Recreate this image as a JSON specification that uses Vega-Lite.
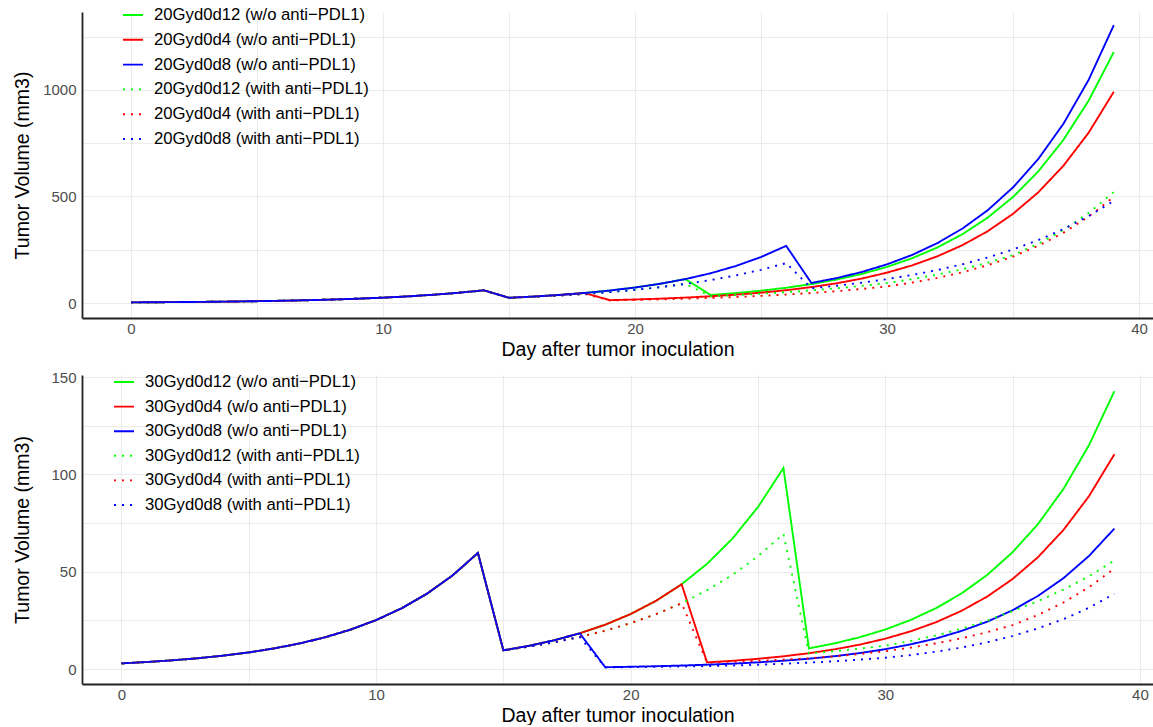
{
  "$schema": "https://vega.github.io/schema/vega-lite/v6.json",
  "background": "white",
  "padding": {"left": 12, "top": 4, "right": 0, "bottom": 0},
  "spacing": 11,
  "config": {
    "font": "Liberation Sans",
    "view": {"stroke": null},
    "axis": {"labelFont": "Liberation Sans", "labelFontSize": 15, "labelColor": "#4d4d4d", "titleFont": "Liberation Sans", "titleFontSize": 19.5, "titleColor": "#000000", "titleFontWeight": "normal", "ticks": false, "gridColor": "#ebebeb", "gridWidth": 1.1, "domainColor": "#222222", "domainWidth": 1.8, "labelPadding": 6},
    "axisX": {"titlePadding": 4, "labelPadding": 3},
    "legend": {"labelFont": "Liberation Sans", "labelFontSize": 16.7, "labelColor": "#000000", "padding": 0, "labelLimit": 0}
  },
  "resolve": {"scale": {"color": "independent", "strokeDash": "independent"}},
  "datasets": {
    "top": [
{"d":0,"s":"d12w","v":2.9},{"d":1,"s":"d12w","v":3.6},{"d":2,"s":"d12w","v":4.47},{"d":3,"s":"d12w","v":5.54},{"d":4,"s":"d12w","v":6.88},{"d":5,"s":"d12w","v":8.54},{"d":6,"s":"d12w","v":10.6},{"d":7,"s":"d12w","v":13.15},{"d":8,"s":"d12w","v":16.32},{"d":9,"s":"d12w","v":20.26},{"d":10,"s":"d12w","v":25.14},{"d":11,"s":"d12w","v":31.2},{"d":12,"s":"d12w","v":38.73},{"d":13,"s":"d12w","v":48.06},{"d":14,"s":"d12w","v":59.65},
{"d":15,"s":"d12w","v":24.5},{"d":16,"s":"d12w","v":30.45},{"d":17,"s":"d12w","v":37.85},{"d":18,"s":"d12w","v":47.05},{"d":19,"s":"d12w","v":58.49},{"d":20,"s":"d12w","v":72.7},{"d":21,"s":"d12w","v":90.37},{"d":22,"s":"d12w","v":112.3},
{"d":23,"s":"d12w","v":37.5},{"d":24,"s":"d12w","v":46.5},{"d":25,"s":"d12w","v":57.7},{"d":26,"s":"d12w","v":71.6},{"d":27,"s":"d12w","v":88.8},{"d":28,"s":"d12w","v":110.1},{"d":29,"s":"d12w","v":136.6},{"d":30,"s":"d12w","v":169.4},{"d":31,"s":"d12w","v":210.2},{"d":32,"s":"d12w","v":260.7},{"d":33,"s":"d12w","v":323.4},{"d":34,"s":"d12w","v":401.1},{"d":35,"s":"d12w","v":497.5},{"d":36,"s":"d12w","v":617.1},{"d":37,"s":"d12w","v":765.5},{"d":38,"s":"d12w","v":949.5},{"d":39,"s":"d12w","v":1177.8},
{"d":0,"s":"d4w","v":2.9},{"d":1,"s":"d4w","v":3.6},{"d":2,"s":"d4w","v":4.47},{"d":3,"s":"d4w","v":5.54},{"d":4,"s":"d4w","v":6.88},{"d":5,"s":"d4w","v":8.54},{"d":6,"s":"d4w","v":10.6},{"d":7,"s":"d4w","v":13.15},{"d":8,"s":"d4w","v":16.32},{"d":9,"s":"d4w","v":20.26},{"d":10,"s":"d4w","v":25.14},{"d":11,"s":"d4w","v":31.2},{"d":12,"s":"d4w","v":38.73},{"d":13,"s":"d4w","v":48.06},{"d":14,"s":"d4w","v":59.65},
{"d":15,"s":"d4w","v":24.5},{"d":16,"s":"d4w","v":30.45},{"d":17,"s":"d4w","v":37.85},{"d":18,"s":"d4w","v":47.05},
{"d":19,"s":"d4w","v":13.3},{"d":20,"s":"d4w","v":16.5},{"d":21,"s":"d4w","v":20.5},{"d":22,"s":"d4w","v":25.4},{"d":23,"s":"d4w","v":31.5},{"d":24,"s":"d4w","v":39.1},{"d":25,"s":"d4w","v":48.5},{"d":26,"s":"d4w","v":60.1},{"d":27,"s":"d4w","v":74.6},{"d":28,"s":"d4w","v":92.5},{"d":29,"s":"d4w","v":114.8},{"d":30,"s":"d4w","v":142.4},{"d":31,"s":"d4w","v":176.7},{"d":32,"s":"d4w","v":219.2},{"d":33,"s":"d4w","v":271.9},{"d":34,"s":"d4w","v":337.3},{"d":35,"s":"d4w","v":418.5},{"d":36,"s":"d4w","v":519.2},{"d":37,"s":"d4w","v":644.1},{"d":38,"s":"d4w","v":799.1},{"d":39,"s":"d4w","v":991.3},
{"d":0,"s":"d8w","v":2.9},{"d":1,"s":"d8w","v":3.6},{"d":2,"s":"d8w","v":4.47},{"d":3,"s":"d8w","v":5.54},{"d":4,"s":"d8w","v":6.88},{"d":5,"s":"d8w","v":8.54},{"d":6,"s":"d8w","v":10.6},{"d":7,"s":"d8w","v":13.15},{"d":8,"s":"d8w","v":16.32},{"d":9,"s":"d8w","v":20.26},{"d":10,"s":"d8w","v":25.14},{"d":11,"s":"d8w","v":31.2},{"d":12,"s":"d8w","v":38.73},{"d":13,"s":"d8w","v":48.06},{"d":14,"s":"d8w","v":59.65},
{"d":15,"s":"d8w","v":24.5},{"d":16,"s":"d8w","v":30.45},{"d":17,"s":"d8w","v":37.85},{"d":18,"s":"d8w","v":47.05},{"d":19,"s":"d8w","v":58.49},{"d":20,"s":"d8w","v":72.7},{"d":21,"s":"d8w","v":90.37},{"d":22,"s":"d8w","v":112.3},{"d":23,"s":"d8w","v":139.6},{"d":24,"s":"d8w","v":173.6},{"d":25,"s":"d8w","v":215.7},{"d":26,"s":"d8w","v":268.2},
{"d":27,"s":"d8w","v":94},{"d":28,"s":"d8w","v":117},{"d":29,"s":"d8w","v":145.7},{"d":30,"s":"d8w","v":181.4},{"d":31,"s":"d8w","v":225.8},{"d":32,"s":"d8w","v":281.2},{"d":33,"s":"d8w","v":350},{"d":34,"s":"d8w","v":435.8},{"d":35,"s":"d8w","v":542.6},{"d":36,"s":"d8w","v":675.5},{"d":37,"s":"d8w","v":841},{"d":38,"s":"d8w","v":1047},{"d":39,"s":"d8w","v":1304},
{"d":0,"s":"d12a","v":2.9},{"d":1,"s":"d12a","v":3.6},{"d":2,"s":"d12a","v":4.47},{"d":3,"s":"d12a","v":5.54},{"d":4,"s":"d12a","v":6.88},{"d":5,"s":"d12a","v":8.54},{"d":6,"s":"d12a","v":10.6},{"d":7,"s":"d12a","v":13.15},{"d":8,"s":"d12a","v":16.32},{"d":9,"s":"d12a","v":20.26},{"d":10,"s":"d12a","v":25.14},{"d":11,"s":"d12a","v":31.2},{"d":12,"s":"d12a","v":38.73},{"d":13,"s":"d12a","v":48.06},{"d":14,"s":"d12a","v":59.65},
{"d":15,"s":"d12a","v":24.5},{"d":16,"s":"d12a","v":29.5},{"d":17,"s":"d12a","v":35.5},{"d":18,"s":"d12a","v":42.7},{"d":19,"s":"d12a","v":51.3},{"d":20,"s":"d12a","v":61.8},{"d":21,"s":"d12a","v":74.3},{"d":22,"s":"d12a","v":89.4},
{"d":23,"s":"d12a","v":32},{"d":24,"s":"d12a","v":37.3},{"d":25,"s":"d12a","v":43.5},{"d":26,"s":"d12a","v":50.8},{"d":27,"s":"d12a","v":59.2},{"d":28,"s":"d12a","v":69.1},{"d":29,"s":"d12a","v":80.6},{"d":30,"s":"d12a","v":94},{"d":31,"s":"d12a","v":112},{"d":32,"s":"d12a","v":133.3},{"d":33,"s":"d12a","v":158.8},{"d":34,"s":"d12a","v":189.1},{"d":35,"s":"d12a","v":225},{"d":36,"s":"d12a","v":277.6},{"d":37,"s":"d12a","v":342.4},{"d":38,"s":"d12a","v":422.4},{"d":39,"s":"d12a","v":521},
{"d":0,"s":"d4a","v":2.9},{"d":1,"s":"d4a","v":3.6},{"d":2,"s":"d4a","v":4.47},{"d":3,"s":"d4a","v":5.54},{"d":4,"s":"d4a","v":6.88},{"d":5,"s":"d4a","v":8.54},{"d":6,"s":"d4a","v":10.6},{"d":7,"s":"d4a","v":13.15},{"d":8,"s":"d4a","v":16.32},{"d":9,"s":"d4a","v":20.26},{"d":10,"s":"d4a","v":25.14},{"d":11,"s":"d4a","v":31.2},{"d":12,"s":"d4a","v":38.73},{"d":13,"s":"d4a","v":48.06},{"d":14,"s":"d4a","v":59.65},
{"d":15,"s":"d4a","v":24.5},{"d":16,"s":"d4a","v":29.5},{"d":17,"s":"d4a","v":35.5},{"d":18,"s":"d4a","v":42.7},
{"d":19,"s":"d4a","v":12.1},{"d":20,"s":"d4a","v":14.3},{"d":21,"s":"d4a","v":17},{"d":22,"s":"d4a","v":20.1},{"d":23,"s":"d4a","v":23.8},{"d":24,"s":"d4a","v":28.2},{"d":25,"s":"d4a","v":33.4},{"d":26,"s":"d4a","v":39.6},{"d":27,"s":"d4a","v":46.9},{"d":28,"s":"d4a","v":55.5},{"d":29,"s":"d4a","v":65.8},{"d":30,"s":"d4a","v":78},{"d":31,"s":"d4a","v":95.8},{"d":32,"s":"d4a","v":117.7},{"d":33,"s":"d4a","v":144.5},{"d":34,"s":"d4a","v":177.5},{"d":35,"s":"d4a","v":218},{"d":36,"s":"d4a","v":268},{"d":37,"s":"d4a","v":329.5},{"d":38,"s":"d4a","v":405.1},{"d":39,"s":"d4a","v":498},
{"d":0,"s":"d8a","v":2.9},{"d":1,"s":"d8a","v":3.6},{"d":2,"s":"d8a","v":4.47},{"d":3,"s":"d8a","v":5.54},{"d":4,"s":"d8a","v":6.88},{"d":5,"s":"d8a","v":8.54},{"d":6,"s":"d8a","v":10.6},{"d":7,"s":"d8a","v":13.15},{"d":8,"s":"d8a","v":16.32},{"d":9,"s":"d8a","v":20.26},{"d":10,"s":"d8a","v":25.14},{"d":11,"s":"d8a","v":31.2},{"d":12,"s":"d8a","v":38.73},{"d":13,"s":"d8a","v":48.06},{"d":14,"s":"d8a","v":59.65},
{"d":15,"s":"d8a","v":24.5},{"d":16,"s":"d8a","v":29.5},{"d":17,"s":"d8a","v":35.5},{"d":18,"s":"d8a","v":42.7},{"d":19,"s":"d8a","v":51.3},{"d":20,"s":"d8a","v":61.8},{"d":21,"s":"d8a","v":74.3},{"d":22,"s":"d8a","v":89.4},{"d":23,"s":"d8a","v":107.6},{"d":24,"s":"d8a","v":129.4},{"d":25,"s":"d8a","v":155.7},{"d":26,"s":"d8a","v":187.4},
{"d":27,"s":"d8a","v":69},{"d":28,"s":"d8a","v":81.1},{"d":29,"s":"d8a","v":95.3},{"d":30,"s":"d8a","v":112},{"d":31,"s":"d8a","v":131.7},{"d":32,"s":"d8a","v":154.7},{"d":33,"s":"d8a","v":181.9},{"d":34,"s":"d8a","v":213.7},{"d":35,"s":"d8a","v":251.2},{"d":36,"s":"d8a","v":295.2},{"d":37,"s":"d8a","v":347},{"d":38,"s":"d8a","v":407.8},{"d":39,"s":"d8a","v":479.3}
    ],
    "bottom": [
{"d":0,"s":"d12w","v":2.9},{"d":1,"s":"d12w","v":3.6},{"d":2,"s":"d12w","v":4.47},{"d":3,"s":"d12w","v":5.54},{"d":4,"s":"d12w","v":6.88},{"d":5,"s":"d12w","v":8.54},{"d":6,"s":"d12w","v":10.6},{"d":7,"s":"d12w","v":13.15},{"d":8,"s":"d12w","v":16.32},{"d":9,"s":"d12w","v":20.26},{"d":10,"s":"d12w","v":25.14},{"d":11,"s":"d12w","v":31.2},{"d":12,"s":"d12w","v":38.73},{"d":13,"s":"d12w","v":48.06},{"d":14,"s":"d12w","v":59.65},
{"d":15,"s":"d12w","v":9.6},{"d":16,"s":"d12w","v":11.91},{"d":17,"s":"d12w","v":14.79},{"d":18,"s":"d12w","v":18.35},{"d":19,"s":"d12w","v":22.78},{"d":20,"s":"d12w","v":28.27},{"d":21,"s":"d12w","v":35.08},{"d":22,"s":"d12w","v":43.54},{"d":23,"s":"d12w","v":54.04},{"d":24,"s":"d12w","v":67.07},{"d":25,"s":"d12w","v":83.24},{"d":26,"s":"d12w","v":103.3},
{"d":27,"s":"d12w","v":10.6},{"d":28,"s":"d12w","v":13.17},{"d":29,"s":"d12w","v":16.35},{"d":30,"s":"d12w","v":20.31},{"d":31,"s":"d12w","v":25.22},{"d":32,"s":"d12w","v":31.33},{"d":33,"s":"d12w","v":38.91},{"d":34,"s":"d12w","v":48.32},{"d":35,"s":"d12w","v":60.02},{"d":36,"s":"d12w","v":74.54},{"d":37,"s":"d12w","v":92.58},{"d":38,"s":"d12w","v":115},{"d":39,"s":"d12w","v":142.8},
{"d":0,"s":"d4w","v":2.9},{"d":1,"s":"d4w","v":3.6},{"d":2,"s":"d4w","v":4.47},{"d":3,"s":"d4w","v":5.54},{"d":4,"s":"d4w","v":6.88},{"d":5,"s":"d4w","v":8.54},{"d":6,"s":"d4w","v":10.6},{"d":7,"s":"d4w","v":13.15},{"d":8,"s":"d4w","v":16.32},{"d":9,"s":"d4w","v":20.26},{"d":10,"s":"d4w","v":25.14},{"d":11,"s":"d4w","v":31.2},{"d":12,"s":"d4w","v":38.73},{"d":13,"s":"d4w","v":48.06},{"d":14,"s":"d4w","v":59.65},
{"d":15,"s":"d4w","v":9.6},{"d":16,"s":"d4w","v":11.91},{"d":17,"s":"d4w","v":14.79},{"d":18,"s":"d4w","v":18.35},{"d":19,"s":"d4w","v":22.78},{"d":20,"s":"d4w","v":28.27},{"d":21,"s":"d4w","v":35.08},{"d":22,"s":"d4w","v":43.54},
{"d":23,"s":"d4w","v":3.4},{"d":24,"s":"d4w","v":4.23},{"d":25,"s":"d4w","v":5.25},{"d":26,"s":"d4w","v":6.53},{"d":27,"s":"d4w","v":8.12},{"d":28,"s":"d4w","v":10.09},{"d":29,"s":"d4w","v":12.54},{"d":30,"s":"d4w","v":15.59},{"d":31,"s":"d4w","v":19.38},{"d":32,"s":"d4w","v":24.09},{"d":33,"s":"d4w","v":29.94},{"d":34,"s":"d4w","v":37.22},{"d":35,"s":"d4w","v":46.26},{"d":36,"s":"d4w","v":57.5},{"d":37,"s":"d4w","v":71.5},{"d":38,"s":"d4w","v":88.8},{"d":39,"s":"d4w","v":110.4},
{"d":0,"s":"d8w","v":2.9},{"d":1,"s":"d8w","v":3.6},{"d":2,"s":"d8w","v":4.47},{"d":3,"s":"d8w","v":5.54},{"d":4,"s":"d8w","v":6.88},{"d":5,"s":"d8w","v":8.54},{"d":6,"s":"d8w","v":10.6},{"d":7,"s":"d8w","v":13.15},{"d":8,"s":"d8w","v":16.32},{"d":9,"s":"d8w","v":20.26},{"d":10,"s":"d8w","v":25.14},{"d":11,"s":"d8w","v":31.2},{"d":12,"s":"d8w","v":38.73},{"d":13,"s":"d8w","v":48.06},{"d":14,"s":"d8w","v":59.65},
{"d":15,"s":"d8w","v":9.6},{"d":16,"s":"d8w","v":11.91},{"d":17,"s":"d8w","v":14.79},{"d":18,"s":"d8w","v":18.35},
{"d":19,"s":"d8w","v":0.93},{"d":20,"s":"d8w","v":1.16},{"d":21,"s":"d8w","v":1.44},{"d":22,"s":"d8w","v":1.79},{"d":23,"s":"d8w","v":2.22},{"d":24,"s":"d8w","v":2.76},{"d":25,"s":"d8w","v":3.43},{"d":26,"s":"d8w","v":4.26},{"d":27,"s":"d8w","v":5.3},{"d":28,"s":"d8w","v":6.59},{"d":29,"s":"d8w","v":8.19},{"d":30,"s":"d8w","v":10.2},{"d":31,"s":"d8w","v":12.7},{"d":32,"s":"d8w","v":15.7},{"d":33,"s":"d8w","v":19.6},{"d":34,"s":"d8w","v":24.3},{"d":35,"s":"d8w","v":30.2},{"d":36,"s":"d8w","v":37.6},{"d":37,"s":"d8w","v":46.7},{"d":38,"s":"d8w","v":58.1},{"d":39,"s":"d8w","v":72.2},
{"d":0,"s":"d12a","v":2.9},{"d":1,"s":"d12a","v":3.6},{"d":2,"s":"d12a","v":4.47},{"d":3,"s":"d12a","v":5.54},{"d":4,"s":"d12a","v":6.88},{"d":5,"s":"d12a","v":8.54},{"d":6,"s":"d12a","v":10.6},{"d":7,"s":"d12a","v":13.15},{"d":8,"s":"d12a","v":16.32},{"d":9,"s":"d12a","v":20.26},{"d":10,"s":"d12a","v":25.14},{"d":11,"s":"d12a","v":31.2},{"d":12,"s":"d12a","v":38.73},{"d":13,"s":"d12a","v":48.06},{"d":14,"s":"d12a","v":59.65},
{"d":15,"s":"d12a","v":9.6},{"d":16,"s":"d12a","v":11.49},{"d":17,"s":"d12a","v":13.76},{"d":18,"s":"d12a","v":16.47},{"d":19,"s":"d12a","v":19.71},{"d":20,"s":"d12a","v":23.6},{"d":21,"s":"d12a","v":28.2},{"d":22,"s":"d12a","v":33.8},{"d":23,"s":"d12a","v":40.5},{"d":24,"s":"d12a","v":48.4},{"d":25,"s":"d12a","v":58},{"d":26,"s":"d12a","v":69.4},
{"d":27,"s":"d12a","v":8},{"d":28,"s":"d12a","v":9.16},{"d":29,"s":"d12a","v":10.48},{"d":30,"s":"d12a","v":12},{"d":31,"s":"d12a","v":14.4},{"d":32,"s":"d12a","v":17.3},{"d":33,"s":"d12a","v":20.7},{"d":34,"s":"d12a","v":24.8},{"d":35,"s":"d12a","v":29.8},{"d":36,"s":"d12a","v":34.9},{"d":37,"s":"d12a","v":40.8},{"d":38,"s":"d12a","v":47.7},{"d":39,"s":"d12a","v":55.8},
{"d":0,"s":"d4a","v":2.9},{"d":1,"s":"d4a","v":3.6},{"d":2,"s":"d4a","v":4.47},{"d":3,"s":"d4a","v":5.54},{"d":4,"s":"d4a","v":6.88},{"d":5,"s":"d4a","v":8.54},{"d":6,"s":"d4a","v":10.6},{"d":7,"s":"d4a","v":13.15},{"d":8,"s":"d4a","v":16.32},{"d":9,"s":"d4a","v":20.26},{"d":10,"s":"d4a","v":25.14},{"d":11,"s":"d4a","v":31.2},{"d":12,"s":"d4a","v":38.73},{"d":13,"s":"d4a","v":48.06},{"d":14,"s":"d4a","v":59.65},
{"d":15,"s":"d4a","v":9.6},{"d":16,"s":"d4a","v":11.49},{"d":17,"s":"d4a","v":13.76},{"d":18,"s":"d4a","v":16.47},{"d":19,"s":"d4a","v":19.71},{"d":20,"s":"d4a","v":23.6},{"d":21,"s":"d4a","v":28.2},{"d":22,"s":"d4a","v":33.8},
{"d":23,"s":"d4a","v":3.3},{"d":24,"s":"d4a","v":3.75},{"d":25,"s":"d4a","v":4.26},{"d":26,"s":"d4a","v":4.84},{"d":27,"s":"d4a","v":5.5},{"d":28,"s":"d4a","v":6.53},{"d":29,"s":"d4a","v":7.75},{"d":30,"s":"d4a","v":9.2},{"d":31,"s":"d4a","v":11},{"d":32,"s":"d4a","v":13.2},{"d":33,"s":"d4a","v":15.8},{"d":34,"s":"d4a","v":18.9},{"d":35,"s":"d4a","v":22.6},{"d":36,"s":"d4a","v":27.8},{"d":37,"s":"d4a","v":34.2},{"d":38,"s":"d4a","v":42},{"d":39,"s":"d4a","v":51.7},
{"d":0,"s":"d8a","v":2.9},{"d":1,"s":"d8a","v":3.6},{"d":2,"s":"d8a","v":4.47},{"d":3,"s":"d8a","v":5.54},{"d":4,"s":"d8a","v":6.88},{"d":5,"s":"d8a","v":8.54},{"d":6,"s":"d8a","v":10.6},{"d":7,"s":"d8a","v":13.15},{"d":8,"s":"d8a","v":16.32},{"d":9,"s":"d8a","v":20.26},{"d":10,"s":"d8a","v":25.14},{"d":11,"s":"d8a","v":31.2},{"d":12,"s":"d8a","v":38.73},{"d":13,"s":"d8a","v":48.06},{"d":14,"s":"d8a","v":59.65},
{"d":15,"s":"d8a","v":9.6},{"d":16,"s":"d8a","v":11.49},{"d":17,"s":"d8a","v":13.76},{"d":18,"s":"d8a","v":16.47},
{"d":19,"s":"d8a","v":0.85},{"d":20,"s":"d8a","v":0.98},{"d":21,"s":"d8a","v":1.13},{"d":22,"s":"d8a","v":1.3},{"d":23,"s":"d8a","v":1.5},{"d":24,"s":"d8a","v":1.83},{"d":25,"s":"d8a","v":2.22},{"d":26,"s":"d8a","v":2.71},{"d":27,"s":"d8a","v":3.3},{"d":28,"s":"d8a","v":3.98},{"d":29,"s":"d8a","v":4.81},{"d":30,"s":"d8a","v":5.8},{"d":31,"s":"d8a","v":7.19},{"d":32,"s":"d8a","v":8.92},{"d":33,"s":"d8a","v":11.05},{"d":34,"s":"d8a","v":13.71},{"d":35,"s":"d8a","v":17},{"d":36,"s":"d8a","v":20.9},{"d":37,"s":"d8a","v":25.6},{"d":38,"s":"d8a","v":31.5},{"d":39,"s":"d8a","v":38.7}
    ]
  },
  "vconcat": [
    {
      "width": 1071,
      "height": 306,
      "data": {"name": "top"},
      "mark": {"type": "line", "strokeWidth": 1.9, "clip": true},
      "encoding": {
        "x": {"field": "d", "type": "quantitative", "scale": {"domain": [-1.944, 40.556], "nice": false, "zero": false},
              "axis": {"values": [0, 5, 10, 15, 20, 25, 30, 35, 40], "labelExpr": "datum.value % 10 === 0 ? datum.label : ''", "title": "Day after tumor inoculation"}},
        "y": {"field": "v", "type": "quantitative", "scale": {"domain": [-70.4, 1366], "nice": false, "zero": false},
              "axis": {"values": [0, 250, 500, 750, 1000, 1250], "labelExpr": "datum.value % 500 === 0 ? datum.label : ''", "format": "d", "title": "Tumor Volume (mm3)", "titlePadding": 10}},
        "color": {"field": "s", "type": "nominal",
                  "scale": {"domain": ["d12w", "d4w", "d8w", "d12a", "d4a", "d8a"], "range": ["#00ff00", "#ff0000", "#0000ff", "#00ff00", "#ff0000", "#0000ff"]},
                  "legend": {"title": null, "orient": "none", "legendX": 40, "legendY": -8, "symbolType": "stroke", "symbolSize": 400, "symbolStrokeWidth": 1.9, "labelOffset": 10, "rowPadding": 4.8,
                             "labelExpr": "datum.label == 'd12w' ? '20Gyd0d12 (w/o anti−PDL1)' : datum.label == 'd4w' ? '20Gyd0d4 (w/o anti−PDL1)' : datum.label == 'd8w' ? '20Gyd0d8 (w/o anti−PDL1)' : datum.label == 'd12a' ? '20Gyd0d12 (with anti−PDL1)' : datum.label == 'd4a' ? '20Gyd0d4 (with anti−PDL1)' : '20Gyd0d8 (with anti−PDL1)'"}},
        "strokeDash": {"field": "s", "type": "nominal",
                  "scale": {"domain": ["d12w", "d4w", "d8w", "d12a", "d4a", "d8a"], "range": [[1, 0], [1, 0], [1, 0], [2, 6], [2, 6], [2, 6]]},
                  "legend": {"title": null, "orient": "none", "legendX": 40, "legendY": -8, "symbolType": "stroke", "symbolSize": 400, "symbolStrokeWidth": 1.9, "labelOffset": 10, "rowPadding": 4.8,
                             "labelExpr": "datum.label == 'd12w' ? '20Gyd0d12 (w/o anti−PDL1)' : datum.label == 'd4w' ? '20Gyd0d4 (w/o anti−PDL1)' : datum.label == 'd8w' ? '20Gyd0d8 (w/o anti−PDL1)' : datum.label == 'd12a' ? '20Gyd0d12 (with anti−PDL1)' : datum.label == 'd4a' ? '20Gyd0d4 (with anti−PDL1)' : '20Gyd0d8 (with anti−PDL1)'"}}
      }
    },
    {
      "width": 1071,
      "height": 309,
      "data": {"name": "bottom"},
      "mark": {"type": "line", "strokeWidth": 1.9, "clip": true},
      "encoding": {
        "x": {"field": "d", "type": "quantitative", "scale": {"domain": [-1.551, 40.515], "nice": false, "zero": false},
              "axis": {"values": [0, 5, 10, 15, 20, 25, 30, 35, 40], "labelExpr": "datum.value % 10 === 0 ? datum.label : ''", "title": "Day after tumor inoculation"}},
        "y": {"field": "v", "type": "quantitative", "scale": {"domain": [-7.7, 151.1], "nice": false, "zero": false},
              "axis": {"values": [0, 25, 50, 75, 100, 125, 150], "labelExpr": "datum.value % 50 === 0 ? datum.label : ''", "format": "d", "title": "Tumor Volume (mm3)", "titlePadding": 18}},
        "color": {"field": "s", "type": "nominal",
                  "scale": {"domain": ["d12w", "d4w", "d8w", "d12a", "d4a", "d8a"], "range": ["#00ff00", "#ff0000", "#0000ff", "#00ff00", "#ff0000", "#0000ff"]},
                  "legend": {"title": null, "orient": "none", "legendX": 31, "legendY": -4, "symbolType": "stroke", "symbolSize": 400, "symbolStrokeWidth": 1.9, "labelOffset": 10, "rowPadding": 4.6,
                             "labelExpr": "datum.label == 'd12w' ? '30Gyd0d12 (w/o anti−PDL1)' : datum.label == 'd4w' ? '30Gyd0d4 (w/o anti−PDL1)' : datum.label == 'd8w' ? '30Gyd0d8 (w/o anti−PDL1)' : datum.label == 'd12a' ? '30Gyd0d12 (with anti−PDL1)' : datum.label == 'd4a' ? '30Gyd0d4 (with anti−PDL1)' : '30Gyd0d8 (with anti−PDL1)'"}},
        "strokeDash": {"field": "s", "type": "nominal",
                  "scale": {"domain": ["d12w", "d4w", "d8w", "d12a", "d4a", "d8a"], "range": [[1, 0], [1, 0], [1, 0], [2, 6], [2, 6], [2, 6]]},
                  "legend": {"title": null, "orient": "none", "legendX": 31, "legendY": -4, "symbolType": "stroke", "symbolSize": 400, "symbolStrokeWidth": 1.9, "labelOffset": 10, "rowPadding": 4.6,
                             "labelExpr": "datum.label == 'd12w' ? '30Gyd0d12 (w/o anti−PDL1)' : datum.label == 'd4w' ? '30Gyd0d4 (w/o anti−PDL1)' : datum.label == 'd8w' ? '30Gyd0d8 (w/o anti−PDL1)' : datum.label == 'd12a' ? '30Gyd0d12 (with anti−PDL1)' : datum.label == 'd4a' ? '30Gyd0d4 (with anti−PDL1)' : '30Gyd0d8 (with anti−PDL1)'"}}
      }
    }
  ]
}
